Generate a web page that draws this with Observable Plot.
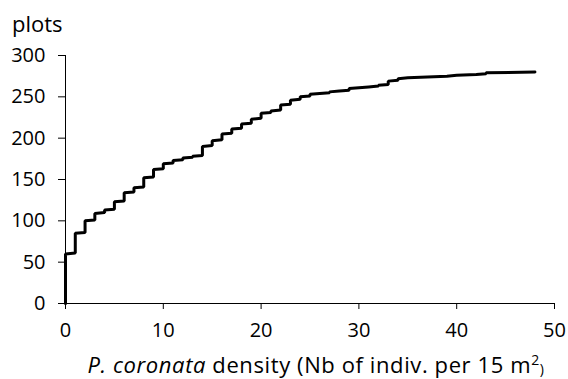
<!DOCTYPE html>
<html>
<head>
<meta charset="utf-8">
<script src="https://cdn.jsdelivr.net/npm/d3@7"></script>
<script src="https://cdn.jsdelivr.net/npm/@observablehq/plot@0.6"></script>
<style>
  html, body { margin: 0; padding: 0; background: #fff; }
  #chart { width: 568px; height: 379px; }
</style>
</head>
<body>
<div id="chart"></div>
<script>
// Density values (Nb of individuals per 15 m²) observed, and cumulative number of plots
const densities = [0, 1, 2, 3, 4, 5, 6, 7, 8, 9, 10, 11, 12, 13, 14, 15, 16, 17, 18, 19, 20, 21, 22, 23, 24, 25, 26, 27, 28, 29, 30, 31, 32, 33, 34, 35, 37, 39, 40, 42, 43, 48];
const cumPlots  = [60, 85, 100, 109, 113, 123, 134, 140, 152, 162, 169, 173, 176, 178, 190, 197, 205, 211, 217, 223, 230, 233, 240, 246, 250, 253, 254, 256, 257, 260, 261, 262, 264, 269, 272, 273, 274, 275, 276, 277, 279, 280];
const xTicks = [0, 10, 20, 30, 40, 50];
const yTicks = [0, 50, 100, 150, 200, 250, 300];
const yLabel = "plots";

// Build the cumulative curve: each plot sorted by density, one rank per plot
const pts = [{x: densities[0], y: 0}];
densities.forEach((d, i) => {
  const prev = i === 0 ? 0 : cumPlots[i - 1];
  if (i > 0) pts.push({x: d, y: prev + 1});
  pts.push({x: d, y: cumPlots[i]});
});

const font = "'Open Sans', sans-serif";
const plot = Plot.plot({
  width: 568,
  height: 379,
  marginLeft: 65,
  marginRight: 14,
  marginTop: 55,
  marginBottom: 76,
  style: {fontFamily: font, fontSize: "20px", color: "#000", background: "#fff"},
  x: {domain: [0, 50], ticks: xTicks},
  y: {domain: [0, 300], ticks: yTicks},
  marks: [
    Plot.axisX({ticks: xTicks, tickSize: 6, tickPadding: 13, label: null, fontSize: 20, stroke: "#000"}),
    Plot.axisY({ticks: yTicks, tickSize: 7, tickPadding: 13, label: null, fontSize: 20, stroke: "#000"}),
    Plot.ruleX([0], {stroke: "#000", strokeWidth: 1}),
    Plot.ruleY([0], {stroke: "#000", strokeWidth: 1}),
    Plot.line(pts, {x: "x", y: "y", stroke: "#000", strokeWidth: 3, strokeLinejoin: "miter"})
  ]
});
document.getElementById("chart").appendChild(plot);

const svg = d3.select(plot);
svg.append("text")
  .attr("x", 12).attr("y", 32)
  .attr("text-anchor", "start")
  .attr("font-family", font).attr("font-size", 22).attr("fill", "#000")
  .text(yLabel);

const xl = svg.append("text")
  .attr("x", 316).attr("y", 373)
  .attr("text-anchor", "middle")
  .attr("letter-spacing", 0.6)
  .attr("font-family", font).attr("font-size", 22).attr("fill", "#000");
xl.append("tspan").attr("font-style", "italic").text("P. coronata");
xl.append("tspan").text(" density (Nb of indiv. per 15 m");
xl.append("tspan").attr("font-size", 14).attr("dy", -8).text("2");
xl.append("tspan").attr("font-size", 14).attr("dy", 9).text(")");
</script>
</body>
</html>
